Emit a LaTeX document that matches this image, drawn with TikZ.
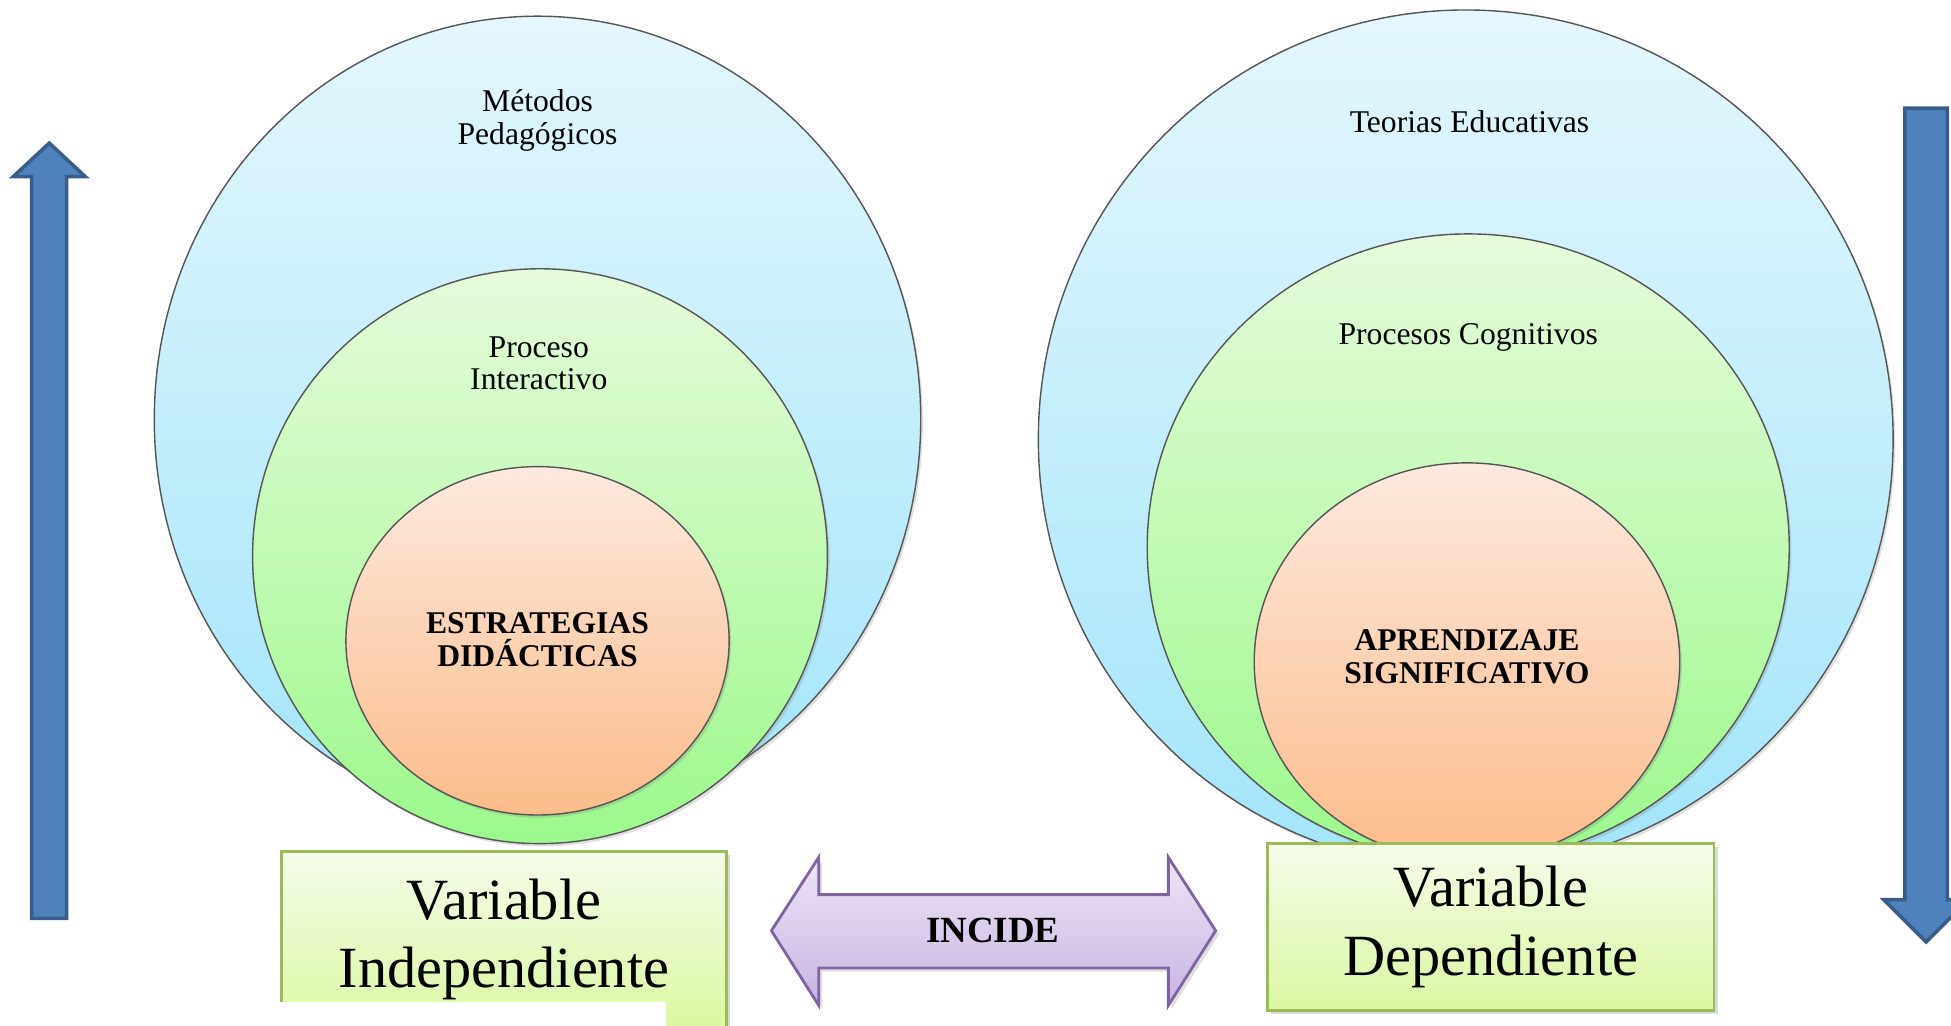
\documentclass[tikz,border=0pt]{standalone}
\usepackage{fontspec}
\setmainfont{Liberation Serif}
\usepackage{xcolor}
\definecolor{SkyTop}{HTML}{E4F7FD}
\definecolor{SkyBottom}{HTML}{A2E5FA}
\definecolor{MintTop}{HTML}{E6FBDB}
\definecolor{MintBottom}{HTML}{9CF98C}
\definecolor{PeachTop}{HTML}{FDE9DE}
\definecolor{PeachBottom}{HTML}{FBBC8A}
\definecolor{LimeTop}{HTML}{F4FCEA}
\definecolor{LimeBottom}{HTML}{DBF8A2}
\definecolor{LimeLine}{HTML}{9BBB59}
\definecolor{LilacTop}{HTML}{EDE5F6}
\definecolor{LilacBottom}{HTML}{C8B4E2}
\definecolor{LilacLine}{HTML}{8064A2}
\definecolor{SteelFill}{HTML}{4F81BD}
\definecolor{SteelLine}{HTML}{385D8A}
\definecolor{RimGrey}{HTML}{555555}
\usetikzlibrary{shapes,shadows}
\newcommand\Px{0.01244cm}
\tikzstyle{ring}=[ellipse,draw=RimGrey,thin,inner sep=0pt,
                     drop shadow={opacity=0.25,shadow xshift=0.6pt,shadow yshift=-0.8pt}]
\tikzstyle{outer}=[ring,top color=SkyTop,bottom color=SkyBottom]
\tikzstyle{middle}=[ring,top color=MintTop,bottom color=MintBottom]
\tikzstyle{inner}=[ring,top color=PeachTop,bottom color=PeachBottom]
\tikzstyle{ringtext}=[align=center,inner sep=0pt,font=\fontsize{9}{9.3}\selectfont]
\tikzstyle{coretext}=[ringtext,font=\fontsize{9}{9.3}\selectfont\bfseries]
\tikzstyle{varbox}=[rectangle,draw=LimeLine,thick,top color=LimeTop,bottom color=LimeBottom,
                     align=center,font=\fontsize{16.6}{19.6}\selectfont,
                     drop shadow={opacity=0.3,shadow xshift=1pt,shadow yshift=-1pt}]
\tikzstyle{steelarrow}=[draw=SteelLine,fill=SteelFill,line width=1pt,line join=miter]
\tikzstyle{lilacarrow}=[draw=LilacLine,line width=0.8pt,top color=LilacTop,bottom color=LilacBottom,
                     drop shadow={opacity=0.25,shadow xshift=1pt,shadow yshift=-1pt}]

\begin{document}
\begin{tikzpicture}[x=\Px,y=-\Px]
      \useasboundingbox (0,0) rectangle (1568,824);
      % left side
      \node[outer,minimum width=616*\Px,minimum height=648*\Px] (mpring) at (432,337) {};
      \node[middle,minimum width=462*\Px,minimum height=462*\Px] (piring) at (434,447) {};
      \node[inner,minimum width=308*\Px,minimum height=280*\Px] (edring) at (432,515) {};
      \node[ringtext] (mp) at (432,97) {Métodos\\Pedagógicos};
      \node[ringtext] (pi) at (433,292) {Proceso\\Interactivo};
      \node[coretext] (ed) at (432,514) {ESTRATEGIAS\\DIDÁCTICAS};
      % right side
      \node[outer,minimum width=687*\Px,minimum height=690*\Px] (tering) at (1178,353) {};
      \node[middle,minimum width=516*\Px,minimum height=504*\Px] (pcring) at (1180,440) {};
      \node[inner,minimum width=342*\Px,minimum height=320*\Px] (asring) at (1179,532) {};
      \node[ringtext] (te) at (1181,98) {Teorias Educativas};
      \node[ringtext] (pc) at (1180,271) {Procesos Cognitivos};
      \node[coretext] (as) at (1179,528) {APRENDIZAJE\\SIGNIFICATIVO};
      % variables
      \node[varbox,minimum width=358*\Px,minimum height=141*\Px] (vi) at (405,755)
            {Variable\\Independiente};
      \fill[white] (222,805) rectangle (535,830);
      \node[varbox,minimum width=359*\Px,minimum height=134*\Px] (vd) at (1198,745)
            {Variable\\Dependiente};
      % incide
      \draw[lilacarrow] (620,748) -- (658,689) -- (658,719) -- (939,719) -- (939,689) -- (977,748)
            -- (939,808) -- (939,778) -- (658,778) -- (658,808) -- cycle;
      \node[font=\fontsize{10.5}{12}\selectfont\bfseries] (incide) at (798,748) {INCIDE};
      % side arrows
      \draw[steelarrow] (25.5,738) -- (25.5,142) -- (10.6,142) -- (39.6,115) -- (68.6,142)
            -- (53.6,142) -- (53.6,738) -- cycle;
      \draw[steelarrow] (1531,87) -- (1531,723) -- (1514,723) -- (1548,757) -- (1582,723)
            -- (1565,723) -- (1565,87) -- cycle;
   \end{tikzpicture}
\end{document}
